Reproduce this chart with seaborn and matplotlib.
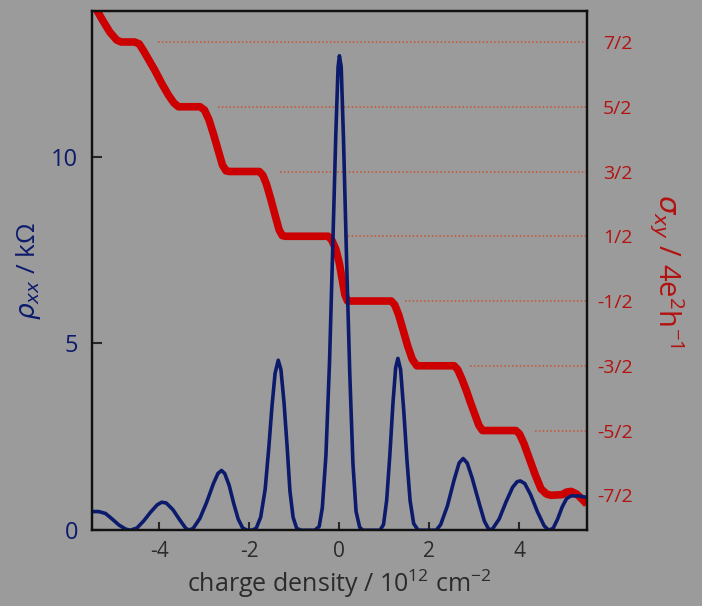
import pandas as pd
import matplotlib
matplotlib.use("Agg")
import matplotlib.pyplot as plt
import seaborn as sns

# rho_xx (kOhm) against charge density (10^12 cm^-2)
rho_n = [-5.50, -5.35, -5.20, -5.05, -4.90, -4.75, -4.65, -4.50, -4.35, -4.20,
         -4.05, -3.95, -3.85, -3.70, -3.55, -3.42, -3.35, -3.25, -3.10, -2.95,
         -2.80, -2.70, -2.62, -2.55, -2.45, -2.35, -2.25, -2.15, -2.05, -1.95,
         -1.85, -1.75, -1.65, -1.57, -1.50, -1.43, -1.36, -1.30, -1.23, -1.16,
         -1.10, -1.03, -0.95, -0.85, -0.55, -0.45, -0.38, -0.30, -0.22, -0.15,
         -0.08, -0.03, 0.00, 0.04, 0.09, 0.16, 0.23, 0.30, 0.37, 0.45,
         0.52, 0.90, 0.98, 1.05, 1.12, 1.19, 1.25, 1.30, 1.36, 1.43,
         1.50, 1.57, 1.65, 1.75, 2.15, 2.25, 2.40, 2.55, 2.66, 2.75,
         2.84, 2.95, 3.10, 3.22, 3.32, 3.40, 3.55, 3.70, 3.85, 3.95,
         4.02, 4.12, 4.25, 4.40, 4.55, 4.65, 4.75, 4.85, 4.95, 5.05,
         5.15, 5.30, 5.50]
rho_xx = [0.50, 0.50, 0.45, 0.30, 0.14, 0.03, 0.00, 0.06, 0.25, 0.48,
          0.68, 0.75, 0.73, 0.55, 0.28, 0.06, 0.00, 0.05, 0.32, 0.75,
          1.25, 1.52, 1.60, 1.52, 1.20, 0.72, 0.30, 0.06, 0.00, 0.00,
          0.05, 0.35, 1.10, 2.20, 3.30, 4.20, 4.55, 4.30, 3.40, 2.20,
          1.05, 0.35, 0.05, 0.00, 0.00, 0.10, 0.60, 2.00, 4.50, 7.50,
          10.60, 12.40, 12.70, 12.40, 10.50, 7.20, 4.20, 1.80, 0.50, 0.08,
          0.00, 0.00, 0.15, 0.80, 2.00, 3.40, 4.35, 4.60, 4.30, 3.20,
          1.90, 0.80, 0.18, 0.00, 0.00, 0.15, 0.65, 1.35, 1.80, 1.92,
          1.80, 1.40, 0.75, 0.25, 0.02, 0.03, 0.30, 0.75, 1.15, 1.30,
          1.32, 1.25, 0.95, 0.50, 0.12, 0.00, 0.05, 0.30, 0.62, 0.85,
          0.92, 0.92, 0.88]

# sigma_xy (4e^2/h) against charge density
sig_n = [-5.50, -5.40, -5.25, -5.10, -4.95, -4.85, -4.55, -4.45, -4.35, -4.25,
         -4.10, -3.95, -3.80, -3.68, -3.58, -3.10, -3.00, -2.90, -2.80, -2.70,
         -2.60, -2.52, -2.45, -1.78, -1.70, -1.62, -1.52, -1.42, -1.34, -1.27,
         -1.20, -0.25, -0.17, -0.08, 0.00, 0.06, 0.12, 0.18, 1.15, 1.23,
         1.32, 1.42, 1.52, 1.62, 1.72, 2.55, 2.63, 2.72, 2.82, 2.92,
         3.02, 3.10, 3.18, 3.92, 4.00, 4.10, 4.22, 4.35, 4.48, 4.60,
         4.70, 4.95, 5.05, 5.15, 5.27, 5.38, 5.50]
sig_xy = [4.12, 4.00, 3.82, 3.65, 3.53, 3.50, 3.50, 3.47, 3.36, 3.24,
          3.06, 2.86, 2.68, 2.56, 2.50, 2.50, 2.45, 2.30, 2.08, 1.84,
          1.60, 1.51, 1.50, 1.50, 1.44, 1.30, 1.06, 0.80, 0.60, 0.51,
          0.50, 0.50, 0.44, 0.30, 0.08, -0.16, -0.40, -0.50, -0.50, -0.56,
          -0.72, -0.96, -1.20, -1.40, -1.50, -1.50, -1.56, -1.70, -1.88, -2.08,
          -2.27, -2.42, -2.50, -2.50, -2.55, -2.70, -2.93, -3.18, -3.40, -3.48,
          -3.50, -3.49, -3.45, -3.44, -3.48, -3.55, -3.64]

# half-integer plateau guides and where each one starts
guide_levels = [3.5, 2.5, 1.5, 0.5, -0.5, -1.5, -2.5]
guide_start = [-4.03, -2.70, -1.32, 0.10, 1.46, 2.90, 4.34]

right_ticks = [3.5, 2.5, 1.5, 0.5, -0.5, -1.5, -2.5, -3.5]
right_labels = ['7/2', '5/2', '3/2', '1/2', '-1/2', '-3/2', '-5/2', '-7/2']

bg = '#9b9b9b'
navy = '#0c1a6c'
red = '#cc0000'
dark_red = '#b3120f'

sns.set_theme(style="ticks")
plt.rcParams['font.family'] = ['Open Sans', 'DejaVu Sans']
plt.rcParams['mathtext.fontset'] = 'custom'
plt.rcParams['mathtext.rm'] = 'Open Sans'
plt.rcParams['mathtext.it'] = 'DejaVu Sans:italic'
plt.rcParams['mathtext.sf'] = 'Open Sans'
plt.rcParams['axes.unicode_minus'] = False

rho_df = pd.DataFrame({'n': rho_n, 'rho': rho_xx})
sig_df = pd.DataFrame({'n': sig_n, 'sigma': sig_xy})

fig = plt.figure(figsize=(7.02, 6.06), dpi=100, facecolor=bg)
ax = fig.add_axes([0.131, 0.125, 0.705, 0.857])
ax2 = ax.twinx()

# sigma_xy on the right axis
for lvl, x0 in zip(guide_levels, guide_start):
    ax2.hlines(lvl, x0, 5.5, colors='#d2461e', linestyles=(0, (1, 1.5)),
               linewidth=1.1, alpha=0.85)
sns.lineplot(data=sig_df, x='n', y='sigma', ax=ax2, color=red, linewidth=5.5,
             solid_capstyle='butt')
ax2.set_ylim(-4.04, 3.98)
ax2.set_yticks(right_ticks)
ax2.set_yticklabels(right_labels)
ax2.tick_params(axis='y', length=0, pad=33, labelsize=14, labelcolor=dark_red)
for lab in ax2.get_yticklabels():
    lab.set_horizontalalignment('right')
ax2.set_ylabel(r'$\sigma_{xy}$ / 4e$^{2}$h$^{-1}$', color=dark_red, fontsize=21,
               rotation=270, labelpad=38)

# rho_xx on the left axis, drawn on top
sns.lineplot(data=rho_df, x='n', y='rho', ax=ax, color=navy, linewidth=2.6)
ax.set_zorder(ax2.get_zorder() + 1)
ax.patch.set_visible(False)
ax.set_xlim(-5.5, 5.5)
ax.set_ylim(0, 13.9)
ax.set_xticks([-4, -2, 0, 2, 4])
ax.set_yticks([0, 5, 10])
ax.tick_params(axis='x', direction='in', length=6, width=1.5, labelsize=15,
               labelcolor='#2b2b2b', pad=8)
ax.tick_params(axis='y', direction='in', length=7, width=1.5, labelsize=17,
               labelcolor=navy, pad=10)
ax.set_xlabel(r'charge density / 10$^{12}$ cm$^{-2}$', fontsize=18, color='#2b2b2b',
              labelpad=4)
ax.set_ylabel(r'$\rho_{xx}$ / k$\Omega$', fontsize=19, color=navy, labelpad=6)

for a in (ax, ax2):
    for s in a.spines.values():
        s.set_color('#111111')
        s.set_linewidth(1.6)

fig.savefig('out.png', dpi=100, facecolor=bg)
